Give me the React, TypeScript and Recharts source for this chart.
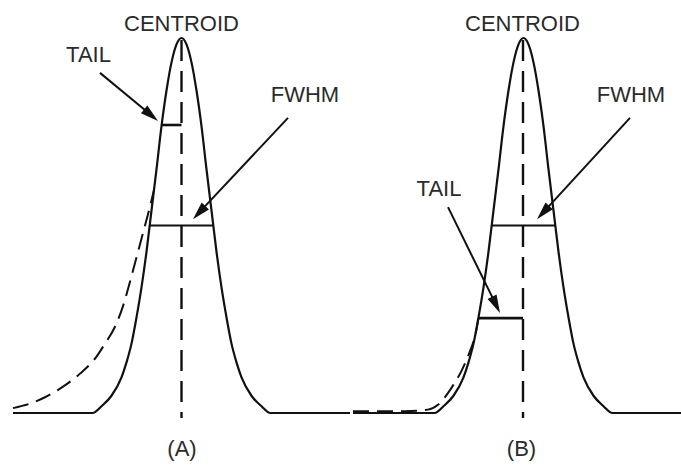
import React from 'react';
import { ComposedChart, Line, XAxis, YAxis, ReferenceLine, ReferenceDot } from 'recharts';

// ---- data (channel vs relative counts, peak = 100) ----
const channelsA = [13, 92.5, 101.5, 111.5, 121.5, 126.5, 131.5, 136.5, 141.5, 146.5, 151.5, 156.5, 161.5, 166.5, 171.5, 176.5, 181.5, 186.5, 191.5, 196.5, 201.5, 206.5, 211.5, 216.5, 221.5, 226.5, 231.5, 236.5, 241.5, 251.5, 261.5, 270.5, 350];
const countsA = [0, 0, 1.8, 4.6, 9.5, 13.5, 18.5, 25.5, 33.5, 43, 54, 65, 76.5, 86, 93.5, 98.3, 100, 98.3, 93.5, 86, 76.5, 65, 54, 43, 33.5, 25.5, 18.5, 13.5, 9.5, 4.6, 1.8, 0, 0];

const channelsB = [353, 434.5, 443.5, 453.5, 463.5, 468.5, 473.5, 478.5, 483.5, 488.5, 493.5, 498.5, 503.5, 508.5, 513.5, 518.5, 523.5, 528.5, 533.5, 538.5, 543.5, 548.5, 553.5, 558.5, 563.5, 568.5, 573.5, 578.5, 583.5, 593.5, 603.5, 612.5, 681];
const countsB = [0, 0, 1.8, 4.6, 9.5, 13.5, 18.5, 25.5, 33.5, 43, 54, 65, 76.5, 86, 93.5, 98.3, 100, 98.3, 93.5, 86, 76.5, 65, 54, 43, 33.5, 25.5, 18.5, 13.5, 9.5, 4.6, 1.8, 0, 0];

const tailChannelsA = [13, 32, 45, 60, 80, 95, 105, 115, 123, 131, 138, 144, 149, 154];
const tailCountsA = [1.3, 2.7, 4.2, 6.5, 10.5, 14.5, 18.5, 23, 28.5, 36, 43, 49, 54, 59.5];

const tailChannelsB = [353, 405, 428, 438, 451, 462, 470, 475.5, 478.5];
const tailCountsB = [0.5, 0.5, 0.9, 2.2, 6.5, 11.5, 16.5, 21, 25.3];

const centroidChannels = [181.5, 523];
const centroidRange = [99.5, -1.3];
const fwhmLevel = 50;
const fwhmEdgesA = [149.7, 213.3];
const fwhmEdgesB = [491.9, 555.1];
const tailLevelA = 76.8;
const tailEdgeA = 161.5;
const tailLevelB = 25.3;
const tailEdgeB = 478.5;

// annotation texts
const labels = [
  { text: 'CENTROID', x: 181.5, y: 102.0 },
  { text: 'CENTROID', x: 522.5, y: 101.8 },
  { text: 'TAIL', x: 88.5, y: 93.6 },
  { text: 'FWHM', x: 305, y: 83.0 },
  { text: 'FWHM', x: 631, y: 83.0 },
  { text: 'TAIL', x: 439, y: 58.0 },
  { text: '(A)', x: 182, y: -11.4 },
  { text: '(B)', x: 521.5, y: -11.4 },
];

const arrows = [
  { from: { x: 100, y: 90.7 }, to: { x: 158, y: 77.9 } },
  { from: { x: 288, y: 78.7 }, to: { x: 193, y: 51.7 } },
  { from: { x: 630, y: 78.7 }, to: { x: 537, y: 51.7 } },
  { from: { x: 448, y: 54.9 }, to: { x: 500, y: 26.7 } },
];

const X_DOMAIN: [number, number] = [0, 681];
const Y_DOMAIN: [number, number] = [-52 / 3.75, 413 / 3.75];

const zip = (xs: number[], ys: number[]) => xs.map((x, i) => ({ x, y: ys[i] }));

const INK = '#111';
const TEXT = '#2b2b2b';
const FONT = '"Liberation Sans", Arial, Helvetica, sans-serif';

const ArrowShape = (props: any) => {
  const { x1, y1, x2, y2 } = props;
  const dx = x2 - x1;
  const dy = y2 - y1;
  const len = Math.hypot(dx, dy) || 1;
  const ux = dx / len;
  const uy = dy / len;
  const L = 18;
  const hw = 5;
  const bx = x2 - ux * L;
  const by = y2 - uy * L;
  const pts = `${x2},${y2} ${bx - uy * hw},${by + ux * hw} ${bx + uy * hw},${by - ux * hw}`;
  return (
    <g>
      <line x1={x1} y1={y1} x2={bx + ux * 3} y2={by + uy * 3} stroke={INK} strokeWidth={2} />
      <polygon points={pts} fill={INK} />
    </g>
  );
};

const textShape = (text: string) => (props: any) => (
  <text
    x={props.cx}
    y={props.cy}
    textAnchor="middle"
    fontFamily={FONT}
    fontSize={22}
    fill={TEXT}
  >
    {text}
  </text>
);

export default function App() {
  return (
    <div style={{ position: 'absolute', left: 0, top: 0, width: 681, height: 465, background: '#fff' }}>
      <ComposedChart width={681} height={465} margin={{ top: 0, right: 0, bottom: 0, left: 0 }}>
        <XAxis type="number" dataKey="x" domain={X_DOMAIN} allowDataOverflow hide />
        <YAxis type="number" dataKey="y" domain={Y_DOMAIN} allowDataOverflow hide />

        <Line data={zip(channelsA, countsA)} dataKey="y" type="monotone" stroke={INK} strokeWidth={2.2} dot={false} activeDot={false} isAnimationActive={false} />
        <Line data={zip(channelsB, countsB)} dataKey="y" type="monotone" stroke={INK} strokeWidth={2.2} dot={false} activeDot={false} isAnimationActive={false} />
        <Line data={zip(tailChannelsA, tailCountsA)} dataKey="y" type="monotone" stroke={INK} strokeWidth={2} strokeDasharray="16 8" dot={false} activeDot={false} isAnimationActive={false} />
        <Line data={zip(tailChannelsB, tailCountsB)} dataKey="y" type="monotone" stroke={INK} strokeWidth={2} strokeDasharray="16 8" dot={false} activeDot={false} isAnimationActive={false} />

        {centroidChannels.map((c, i) => (
          <ReferenceLine
            key={'c' + i}
            ifOverflow="visible"
            segment={[{ x: c, y: centroidRange[0] }, { x: c, y: centroidRange[1] }]}
            stroke={INK}
            strokeWidth={2.4}
            strokeDasharray="21 10"
          />
        ))}

        <ReferenceLine ifOverflow="visible" segment={[{ x: fwhmEdgesA[0], y: fwhmLevel }, { x: fwhmEdgesA[1], y: fwhmLevel }]} stroke={INK} strokeWidth={2} />
        <ReferenceLine ifOverflow="visible" segment={[{ x: fwhmEdgesB[0], y: fwhmLevel }, { x: fwhmEdgesB[1], y: fwhmLevel }]} stroke={INK} strokeWidth={2} />
        <ReferenceLine ifOverflow="visible" segment={[{ x: tailEdgeA, y: tailLevelA }, { x: centroidChannels[0], y: tailLevelA }]} stroke={INK} strokeWidth={2.6} />
        <ReferenceLine ifOverflow="visible" segment={[{ x: tailEdgeB, y: tailLevelB }, { x: centroidChannels[1], y: tailLevelB }]} stroke={INK} strokeWidth={2.6} />

        {arrows.map((a, i) => (
          <ReferenceLine key={'a' + i} ifOverflow="visible" segment={[a.from, a.to]} shape={ArrowShape} />
        ))}

        {labels.map((l, i) => (
          <ReferenceDot key={'l' + i} x={l.x} y={l.y} r={0} ifOverflow="visible" shape={textShape(l.text)} />
        ))}
      </ComposedChart>
    </div>
  );
}
